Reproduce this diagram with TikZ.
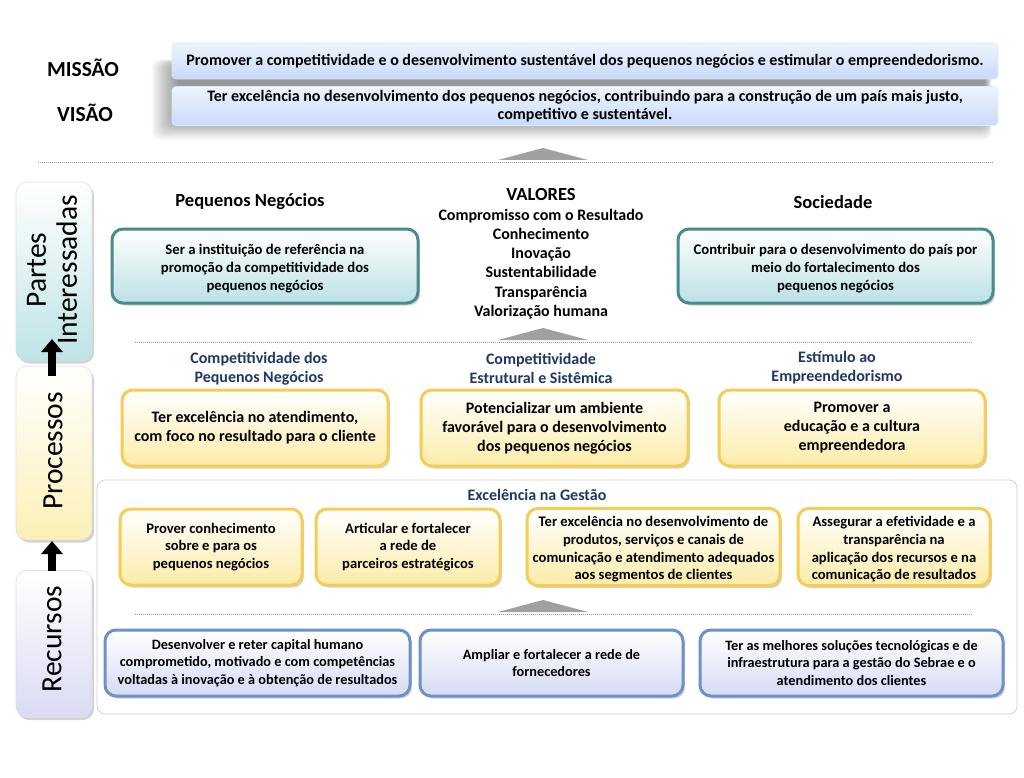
\documentclass[tikz,border=0pt]{standalone}
\usepackage{fontspec}
\setmainfont{Carlito}
\usetikzlibrary{shadows,arrows.meta}
\definecolor{navy}{RGB}{31,56,100}
\definecolor{tealb}{RGB}{74,139,144}
\definecolor{tealf}{RGB}{188,225,229}
\definecolor{goldb}{RGB}{245,205,85}
\definecolor{goldf}{RGB}{252,236,168}
\definecolor{blueb}{RGB}{110,146,198}
\definecolor{bluef}{RGB}{214,219,244}
\definecolor{mfill}{RGB}{200,218,248}
\definecolor{mtop}{RGB}{238,244,254}
\definecolor{sidet}{RGB}{190,227,231}
\definecolor{sidey}{RGB}{252,240,182}
\definecolor{sidel}{RGB}{218,218,244}
\definecolor{trig}{RGB}{160,160,160}
\newcommand{\nols}{\lineskiplimit=-20pt\lineskip=0pt}
\tikzset{
  btxt/.style={font=\fontsize{14.7}{18}\selectfont\bfseries\nols, align=center, text=black},
  shad/.style={drop shadow={shadow xshift=2pt, shadow yshift=-2.5pt, opacity=0.35}},
  tealbox/.style={btxt, rounded corners=11pt, draw=tealb, line width=3pt, top color=white, bottom color=tealf, shad},
  goldbox/.style={btxt, rounded corners=11pt, draw=goldb, line width=3pt, top color=white, bottom color=goldf, shad},
  bluebox/.style={btxt, rounded corners=11pt, draw=blueb, line width=3pt, top color=white, bottom color=bluef, shad},
  ptxt/.style={font=\fontsize{16}{19}\selectfont\bfseries\nols},
  gtxt/.style={font=\fontsize{14.6}{17.7}\selectfont\bfseries\nols},
  rtxt/.style={font=\fontsize{14.3}{17.5}\selectfont\bfseries\nols},
  mbox/.style={font=\fontsize{16}{18.5}\selectfont\bfseries\nols, align=center, rounded corners=4pt, draw=mfill!60, line width=0.6pt, top color=mtop, bottom color=mfill},
  sidebox/.style={rounded corners=11pt, draw=gray!25, line width=0.6pt, shad, minimum width=76pt},
  sidetxt/.style={font=\fontsize{29.5}{31}\selectfont\nols, rotate=90, align=center},
  bighead/.style={font=\fontsize{18.5}{22}\selectfont\bfseries},
  navyhead/.style={font=\fontsize{16}{19}\selectfont\bfseries\nols, text=navy, align=center},
  dots/.style={draw=gray!80, line width=0.8pt, dash pattern=on 0.8pt off 1.2pt},
  trigshape/.style={fill=trig, draw=none},
  bigarrow/.style={line width=8.5pt, -{Triangle[width=21pt,length=13pt]}, black}
}
\begin{document}
\begin{tikzpicture}[x=1pt,y=-1pt]
\useasboundingbox[fill=white] (0,0) rectangle (1024,778);

% ---- mission / vision shadow
\foreach \r in {0,...,22}{
  \fill[black, opacity=0.02, rounded corners=8pt] (178-\r*1.2,66-\r*0.3) rectangle (985+\r*0.3,118+\r*1.0);
}
\node[mbox, minimum width=826pt, minimum height=36pt] (mis) at (585,61) {Promover a competitividade e o desenvolvimento sustentável dos pequenos negócios e estimular o empreendedorismo.};
\node[mbox, minimum width=826pt, minimum height=38pt] (vis) at (585,106) {Ter excelência no desenvolvimento dos pequenos negócios, contribuindo para a construção de um país mais justo,\\competitivo e sustentável.};
\node[font=\fontsize{21.5}{24}\selectfont\bfseries] (lmis) at (83,68) {MISSÃO};
\node[font=\fontsize{21.5}{24}\selectfont\bfseries] (lvis) at (85,113) {VISÃO};

% ---- separators and triangles
\coordinate (t1) at (543,148);
\fill[trigshape] (t1) -- ++(45,12) -- ++(-90,0) -- cycle;
\draw[dots] (38,162) -- (993,162);
\coordinate (t2) at (543,328);
\fill[trigshape] (t2) -- ++(45,12) -- ++(-90,0) -- cycle;
\draw[dots] (135,342) -- (972,342);

% ---- left column
\node[sidebox, minimum height=179pt, top color=white, bottom color=sidet] (spi) at (54,271.5) {};
\node[sidebox, minimum height=174pt, top color=white, bottom color=sidey] (spr) at (54,453) {};
\node[sidebox, minimum height=147pt, top color=white, bottom color=sidel] (sre) at (54,644) {};
\node[sidetxt] (tpi) at (52,270) {Partes\\Interessadas};
\node[sidetxt] (tpr) at (53,451) {Processos};
\node[sidetxt] (tre) at (52,639) {Recursos};
\coordinate (a1s) at (52,376);
\coordinate (a1e) at (52,339);
\coordinate (a2s) at (52,571);
\coordinate (a2e) at (52,541);
\draw[bigarrow] (a1s) -- (a1e);
\draw[bigarrow] (a2s) -- (a2e);

% ---- partes interessadas
\node[bighead] (hpn) at (250,202) {Pequenos Negócios};
\node[bighead] (hsoc) at (833,202) {Sociedade};
\node[bighead] (hval) at (541,194) {VALORES};
\node[font=\fontsize{16}{19.3}\selectfont\bfseries\nols, align=center] (val) at (541,264) {Compromisso com o Resultado\\Conhecimento\\Inovação\\Sustentabilidade\\Transparência\\Valorização humana};
\node[tealbox, minimum width=306pt, minimum height=74pt] (pn) at (265,266) {\rule{0pt}{15pt}Ser a instituição de referência na\\promoção da competitividade dos\\pequenos negócios};
\node[tealbox, minimum width=315pt, minimum height=74pt] (soc) at (835.5,266) {\rule{0pt}{15pt}Contribuir para o desenvolvimento do país por\\meio do fortalecimento dos\\pequenos negócios};

% ---- processos
\node[navyhead] (hc1) at (259,369) {Competitividade dos\\Pequenos Negócios};
\node[navyhead] (hc2) at (541,368) {Competitividade\\Estrutural e Sistêmica};
\node[navyhead] (hc3) at (837,368) {Estímulo ao\\Empreendedorismo};
\node[goldbox, ptxt, minimum width=266pt, minimum height=76pt] (y1) at (255,428) {Ter excelência no atendimento,\\com foco no resultado para o cliente};
\node[goldbox, ptxt, minimum width=267pt, minimum height=76pt] (y2) at (554.5,428) {Potencializar um ambiente\\favorável para o desenvolvimento\\dos pequenos negócios};
\node[goldbox, ptxt, minimum width=266pt, minimum height=76pt] (y3) at (852,428) {Promover a\\educação e a cultura\\empreendedora};

% ---- gestao container
\node[draw=gray!35, line width=0.8pt, rounded corners=8pt, minimum width=920pt, minimum height=234pt] (cont) at (557,597) {};
\node[navyhead] (hg) at (537,495) {Excelência na Gestão};
\node[goldbox, gtxt, minimum width=182pt, minimum height=76pt] (g1) at (211,547) {Prover conhecimento\\sobre e para os\\pequenos negócios};
\node[goldbox, gtxt, minimum width=184pt, minimum height=76pt] (g2) at (408,547) {Articular e fortalecer\\a rede de\\parceiros estratégicos};
\node[goldbox, gtxt, minimum width=253pt, minimum height=76pt] (g3) at (653.5,547) {\rule{0pt}{15pt}Ter excelência no desenvolvimento de\\produtos, serviços e canais de\\comunicação e atendimento adequados\\aos segmentos de clientes};
\node[goldbox, gtxt, minimum width=192pt, minimum height=76pt] (g4) at (894,547) {\rule{0pt}{15pt}Assegurar a efetividade e a\\transparência na\\aplicação dos recursos e na\\comunicação de resultados};

\coordinate (t3) at (543,600);
\fill[trigshape] (t3) -- ++(45,12) -- ++(-90,0) -- cycle;
\draw[dots] (135,614) -- (972,614);

% ---- recursos
\node[bluebox, rtxt, minimum width=305pt, minimum height=66pt] (b1) at (257.5,663) {Desenvolver e reter capital humano\\comprometido, motivado e com competências\\voltadas à inovação e à obtenção de resultados};
\node[bluebox, rtxt, minimum width=263pt, minimum height=66pt] (b2) at (551.5,663) {Ampliar e fortalecer a rede de\\fornecedores};
\node[bluebox, rtxt, minimum width=303pt, minimum height=66pt] (b3) at (851.5,663) {Ter as melhores soluções tecnológicas e de\\infraestrutura para a gestão do Sebrae e o\\atendimento dos clientes};
\end{tikzpicture}
\end{document}
